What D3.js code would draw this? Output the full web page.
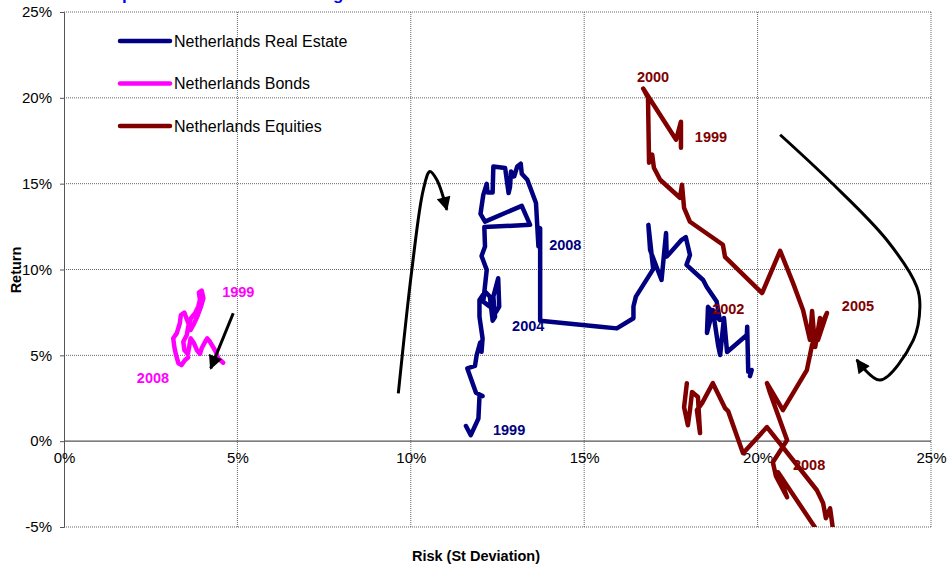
<!DOCTYPE html>
<html>
<head>
<meta charset="utf-8">
<script src="https://cdn.jsdelivr.net/npm/d3@7"></script>
<style>
  body { margin: 0; background: #fff; }
  svg { display: block; font-family: "Liberation Sans", Arial, sans-serif; }
</style>
</head>
<body>
<div id="chart"></div>
<script>
// Risk (st deviation, %) / return (%) pairs
const realEstate = [
  [11.59,0.88],[11.73,0.35],[11.95,1.32],[11.98,2.58],[12.07,2.63],[11.88,2.82],[11.63,4.24],[11.85,4.38],
  [11.90,5.02],[12.00,5.74],[12.04,5.21],[12.07,5.99],[11.98,7.25],[11.98,8.23],[12.14,8.71],[12.28,8.42],
  [12.36,7.02],[12.43,7.25],[12.38,8.42],[12.52,9.49],[12.55,7.84],[12.46,7.54],[12.28,7.84],[12.09,8.13],
  [12.19,9.98],[12.04,10.79],[12.14,11.34],[12.12,12.47],[13.44,12.60],[13.20,13.71],[12.14,12.79],[12.01,13.24],
  [12.09,14.35],[12.19,14.99],[12.21,14.49],[12.36,14.49],[12.38,16.00],[12.72,15.91],[12.82,14.45],[12.86,14.80],
  [12.89,15.71],[12.98,15.42],[13.07,16.00],[13.17,16.16],[13.20,15.58],[13.36,15.23],[13.61,13.87],[13.68,11.34],
  [13.73,12.41],[13.73,7.02],[15.46,6.67],[15.94,6.57],[16.42,7.16],[16.42,7.84],[16.49,8.42],[16.99,10.02],
  [16.85,12.60],[16.90,11.14],[17.23,9.39],[17.36,12.12],[17.38,10.75],[17.81,11.73],[17.93,11.88],[18.05,10.85],
  [17.95,10.27],[18.43,9.39],[18.53,9.00],[18.82,8.13],[18.91,7.06],[18.57,7.82],[18.54,6.30],[18.71,7.64],
  [18.86,5.60],[18.92,5.02],[19.03,7.18],[19.12,5.19],[19.69,6.18],[19.70,6.67],[19.73,4.04],[19.83,4.14],[19.78,3.79]
];

const bonds = [
  [4.59,4.57],[4.45,4.82],[4.35,5.31],[4.21,5.79],[4.13,5.99],[4.07,5.79],[3.97,5.41],[3.92,5.08],
  [3.83,5.31],[3.75,5.70],[3.65,5.99],[3.61,5.50],[3.57,5.08],[3.47,5.31],[3.44,5.79],[3.54,6.18],
  [3.58,6.67],[3.66,7.16],[3.78,7.45],[3.87,7.84],[3.92,8.23],[3.89,8.65],[3.97,8.77],[4.02,8.33],
  [3.95,7.84],[3.85,7.29],[3.73,6.77],[3.65,6.48],[3.57,6.96],[3.47,7.49],[3.37,7.35],[3.34,6.87],
  [3.25,6.28],[3.15,5.99],[3.18,5.50],[3.23,5.02],[3.30,4.53],[3.39,4.43],[3.49,4.73],[3.58,4.88]
];

const equities = [
  [17.79,17.09],[17.79,18.61],[17.65,17.56],[16.70,20.54],[16.84,20.01],[16.87,16.22],[16.96,16.69],[17.01,15.93],
  [17.19,15.23],[17.76,14.18],[17.82,14.94],[17.88,13.59],[18.05,12.78],[19.00,11.44],[19.06,10.74],[20.13,8.63],
  [20.65,11.09],[21.02,9.22],[21.31,7.64],[21.51,5.89],[21.57,7.58],[21.66,5.48],[21.80,7.18],[21.74,5.89],
  [22.00,7.47],[21.57,5.60],[21.42,4.14],[20.73,1.81],[20.27,3.38],[20.36,2.80],[20.85,0.06],[20.44,-1.23],
  [20.53,-2.04],[20.85,-3.27],[20.59,-1.81],[21.71,-5.19],[21.86,-6.24],[22.15,-6.24],[22.17,-5.08],[22.09,-3.91],
  [21.97,-4.49],[21.89,-3.62],[21.71,-2.86],[20.27,0.82],[19.58,-0.70],[19.15,1.75],[19.06,1.93],[18.71,3.38],
  [18.40,2.22],[18.25,1.81],[18.34,0.47],[18.28,2.57],[18.11,2.86],[18.05,1.81],[17.99,0.93],[17.88,1.98],[17.96,3.38]
];

const seriesNames = ["Netherlands Real Estate", "Netherlands Bonds", "Netherlands Equities"];
const seriesColors = ["#000080", "#FF00FF", "#800000"];
const seriesData = [realEstate, bonds, equities];

// year annotations: [risk, return, text]
const reYears = [[12.37,0.35,"1999"],[12.92,6.42,"2004"],[13.99,11.14,"2008"]];
const bondYears = [[4.56,8.40,"1999"],[2.10,3.38,"2008"]];
const eqYears = [[16.52,20.95,"2000"],[18.19,17.44,"1999"],[18.69,7.41,"2002"],[22.43,7.58,"2005"],[21.02,-1.69,"2008"]];

// hand-drawn direction arrows
const bondArrow = [[4.88,7.45],[4.23,4.24]];
const reArrow = [[9.64,2.78],[10.03,9.98],[10.36,14.64],[10.55,15.71],[10.75,15.23],[11.04,13.48]];
const eqArrow = [[20.65,17.85],[22.14,15.04],[23.72,11.73],[24.59,9.00],[24.68,7.84],[24.49,5.89],[23.53,3.56],[22.86,4.73]];

const xTicks = [0, 5, 10, 15, 20, 25];
const yTicks = [-5, 0, 5, 10, 15, 20, 25];

const width = 948, height = 568;
const plot = { left: 64, right: 931, top: 12, bottom: 527 };

const svg = d3.select("#chart").append("svg")
    .attr("width", width)
    .attr("height", height);

const x = d3.scaleLinear().domain([0, 25]).range([plot.left, plot.right]);
const y = d3.scaleLinear().domain([-5, 25]).range([plot.bottom, plot.top]);

// title (cut off at the top of the picture, as in the original)
svg.append("text")
    .attr("x", -31).attr("y", 0)
    .attr("fill", "#0000FF")
    .attr("font-size", 17)
    .attr("font-weight", "bold")
    .text("Dutch Risk/Return paths for three Asset Categories");

svg.append("defs").append("clipPath").attr("id", "plotClip")
  .append("rect")
    .attr("x", plot.left).attr("y", plot.top)
    .attr("width", plot.right - plot.left)
    .attr("height", plot.bottom - plot.top);

svg.select("defs").append("marker")
    .attr("id", "arrowHead")
    .attr("markerUnits", "userSpaceOnUse")
    .attr("viewBox", "0 0 10 10")
    .attr("refX", 9).attr("refY", 5)
    .attr("markerWidth", 17).attr("markerHeight", 14)
    .attr("orient", "auto")
  .append("path")
    .attr("d", "M0,0 L10,5 L0,10 Z")
    .attr("fill", "#000");

// grid
const grid = svg.append("g");
grid.selectAll(".hgrid")
  .data(yTicks.filter(d => d !== 0))
  .join("line")
    .attr("x1", plot.left).attr("x2", plot.right)
    .attr("y1", d => y(d)).attr("y2", d => y(d))
    .attr("stroke", "#666")
    .attr("stroke-dasharray", "1,1");
grid.selectAll(".vgrid")
  .data(xTicks.filter(d => d !== 0))
  .join("line")
    .attr("x1", d => x(d)).attr("x2", d => x(d))
    .attr("y1", plot.top).attr("y2", plot.bottom)
    .attr("stroke", "#666")
    .attr("stroke-dasharray", "1,1");

// zero line and left axis
svg.append("line")
    .attr("x1", plot.left).attr("x2", plot.right)
    .attr("y1", y(0)).attr("y2", y(0))
    .attr("stroke", "#555").attr("stroke-width", 1.2);

const yAxis = svg.append("g")
    .attr("transform", `translate(${plot.left},0)`)
    .call(d3.axisLeft(y).tickValues(yTicks).tickFormat(d => d + "%").tickSize(4).tickPadding(8));
yAxis.select(".domain").attr("stroke", "#555");
yAxis.selectAll(".tick line").attr("stroke", "#555");
yAxis.selectAll("text").attr("font-size", 15).attr("font-family", "Liberation Sans, Arial, sans-serif").attr("fill", "#000");

const xAxis = svg.append("g")
    .attr("transform", `translate(0,${y(0)})`)
    .call(d3.axisBottom(x).tickValues(xTicks).tickFormat(d => d + "%").tickSize(0).tickPadding(11));
xAxis.select(".domain").remove();
xAxis.selectAll("text").attr("font-size", 15).attr("font-family", "Liberation Sans, Arial, sans-serif").attr("fill", "#000");

// axis titles
svg.append("text")
    .attr("x", 476).attr("y", 561)
    .attr("text-anchor", "middle")
    .attr("font-size", 14.5).attr("font-weight", "bold")
    .text("Risk (St Deviation)");
svg.append("text")
    .attr("transform", "translate(21,270) rotate(-90)")
    .attr("text-anchor", "middle")
    .attr("font-size", 14.5).attr("font-weight", "bold")
    .text("Return");

// series paths
const line = d3.line().x(d => x(d[0])).y(d => y(d[1]));
svg.append("g").attr("clip-path", "url(#plotClip)")
  .selectAll("path")
  .data(seriesData)
  .join("path")
    .attr("d", line)
    .attr("fill", "none")
    .attr("stroke", (d, i) => seriesColors[i])
    .attr("stroke-width", 4.5)
    .attr("stroke-linejoin", "round")
    .attr("stroke-linecap", "round");

// arrows
const curvy = d3.line().x(d => x(d[0])).y(d => y(d[1])).curve(d3.curveCatmullRom.alpha(0.5));
svg.append("g")
  .selectAll("path")
  .data([bondArrow, reArrow, eqArrow])
  .join("path")
    .attr("d", curvy)
    .attr("fill", "none")
    .attr("stroke", "#000")
    .attr("stroke-width", 3)
    .attr("marker-end", "url(#arrowHead)");

// year labels
const yearGroups = [[reYears, seriesColors[0]], [bondYears, seriesColors[1]], [eqYears, seriesColors[2]]];
yearGroups.forEach(([labels, color]) => {
  svg.append("g").selectAll("text")
    .data(labels)
    .join("text")
      .attr("x", d => x(d[0]))
      .attr("y", d => y(d[1]))
      .attr("fill", color)
      .attr("font-size", 14.5)
      .attr("font-weight", "bold")
      .text(d => d[2]);
});

// legend
const legend = svg.append("g")
  .selectAll("g")
  .data(seriesNames)
  .join("g")
    .attr("transform", (d, i) => `translate(120,${41 + i * 42.5})`);
legend.append("line")
    .attr("x1", 0).attr("x2", 50)
    .attr("stroke", (d, i) => seriesColors[i])
    .attr("stroke-width", 4.5)
    .attr("stroke-linecap", "round");
legend.append("text")
    .attr("x", 54)
    .attr("dy", "0.35em")
    .attr("font-size", 16)
    .text(d => d);
</script>
</body>
</html>
